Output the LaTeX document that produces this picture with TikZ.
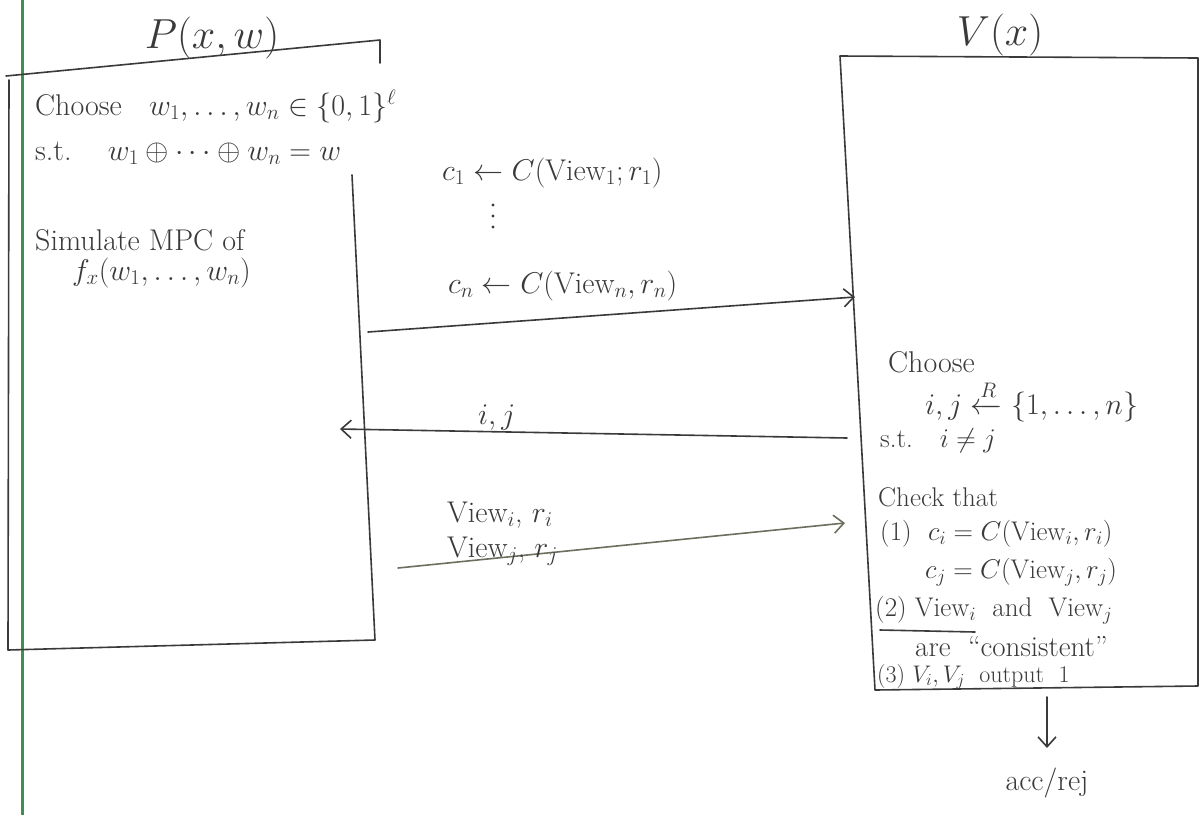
\RequirePackage{fix-cm}
\documentclass[tikz,border=0pt]{standalone}
\usepackage{amsmath,amssymb}
\usetikzlibrary{arrows.meta}
\definecolor{ink}{HTML}{3A3A3A}
\definecolor{margin}{HTML}{3F8F55}
\definecolor{fadedink}{HTML}{6E6E5E}
\begin{document}
\begin{tikzpicture}[x=1pt,y=-1pt,
  boxline/.style={draw=ink,line width=1.6pt,line cap=round,line join=round},
  msg/.style={draw=ink,line width=1.6pt,line cap=round,
    -{Straight Barb[length=10pt,width=18pt,line width=1.6pt]}},
  txt/.style={text=ink,font=\fontsize{30}{36}\selectfont,inner sep=0pt,anchor=base west},
  smalltxt/.style={txt,font=\fontsize{27}{32}\selectfont},
  title/.style={text=ink,font=\fontsize{42}{50}\selectfont,inner sep=0pt,anchor=base},
]
\useasboundingbox (0,0) rectangle (1200,815);
\fill[white] (0,0) rectangle (1200,815);

% notebook margin rule
\draw[margin,line width=3pt] (22,0) -- (22,815);

% ---------- prover ----------
\node[title] (ptitle) at (212,48) {$P(x,w)$};
\draw[boxline] (6,76) -- (380,40) -- (380,63);
\draw[boxline] (9,80) -- (8,650) -- (375,640) -- (352,175);

\node[txt] (pchoose) at (35,115) {Choose\ \ \ $w_1,\dots,w_n\in\{0,1\}^{\ell}$};
\node[txt] (pst) at (35,160) {s.t.\ \ \ \ $w_1\oplus\cdots\oplus w_n=w$};
\node[txt] (psim) at (35,250) {Simulate MPC of};
\node[txt] (pf) at (72,280) {$f_x(w_1,\dots,w_n)$};

% ---------- verifier ----------
\node[title] (vtitle) at (1000,45) {$V(x)$};
\draw[boxline] (840,56) -- (1198,58) -- (1198,686) -- (875,690) -- cycle;

\node[txt] (vchoose) at (888,372) {Choose};
\node[txt] (vpick) at (925,414) {$i,j \xleftarrow{R} \{1,\dots,n\}$};
\node[smalltxt] (vst) at (880,447) {s.t.\quad $i\neq j$};
\node[smalltxt] (vcheck) at (878,506) {Check that};
\node[smalltxt] (vone) at (880,540) {(1)\ \ $c_i=C(\text{View}_i,r_i)$};
\node[smalltxt] (vonej) at (925,578) {$c_j=C(\text{View}_j,r_j)$};
\node[smalltxt] (vtwo) at (875,616) {(2) View$_i$\ \ and\ \ View$_j$};
\draw[boxline] (880,630) -- (975,632);
\node[smalltxt,font=\fontsize{29}{34}\selectfont] (vcons) at (915,656) {are\ \ ``consistent''};
\node[smalltxt,font=\fontsize{24}{28}\selectfont] (vthree) at (877,682) {(3) $V_i,V_j$\ \ output\ \ 1};

% ---------- messages ----------
\coordinate (p1) at (368,332);
\coordinate (v1) at (855,297);
\coordinate (v2) at (847,438);
\coordinate (p2) at (340,429);
\coordinate (p3) at (398,568);
\coordinate (v3) at (845,523);
\coordinate (vb) at (1047,697);

\draw[msg] (p1) -- (v1);
\node[txt] (lc1) at (442,180) {$c_1\leftarrow C(\text{View}_1;r_1)$};
% vertical ellipsis between the first and last commitment
\foreach \yy in {205,216,227} \fill[ink] (493,\yy) circle (1.6pt);
\node[txt] (lcn) at (448,293) {$c_n\leftarrow C(\text{View}_n,r_n)$};

\draw[msg] (v2) -- (p2);
\node[txt] (lij) at (478,424) {$i,j$};

\draw[msg,draw=fadedink] (p3) -- (v3);
\node[txt] (lvi) at (447,522) {View$_i$,\ $r_i$};
\node[txt] (lvj) at (447,557) {View$_j$,\ $r_j$};

% ---------- decision ----------
\node[txt,anchor=base] (out) at (1047,790) {acc/rej};
\draw[msg] (vb) -- (1047,748);
\end{tikzpicture}
\end{document}
